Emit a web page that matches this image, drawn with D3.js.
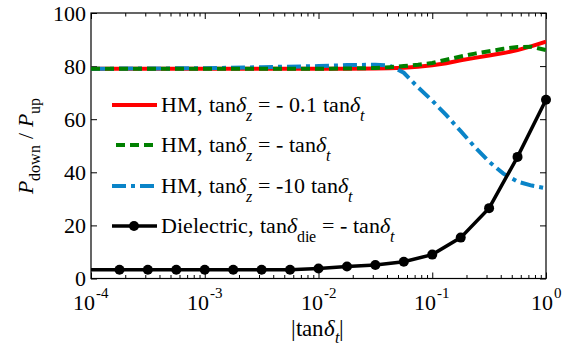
<!DOCTYPE html>
<html><head><meta charset="utf-8">
<script src="https://cdn.jsdelivr.net/npm/d3@7"></script>
<style>
@font-face{font-family:"ChartSerif";src:local("Liberation Serif"),local("LiberationSerif"),local("Liberation Serif Regular");font-style:normal;font-weight:400}
@font-face{font-family:"ChartSerif";src:local("Liberation Serif Italic"),local("LiberationSerif-Italic");font-style:italic;font-weight:400}
body{margin:0;background:#fff}
</style>
</head><body style="margin:0">
<svg id="c" width="571" height="347"></svg>
<script>
// ---- data ----
const hmX      = [1e-4, 3.16e-4, 1e-3, 3.16e-3, 1e-2, 0.0178, 0.0316, 0.0422, 0.0562, 0.075, 0.1, 0.133, 0.178, 0.237, 0.316, 0.422, 0.562, 0.75, 1];
const hmRed    = [79, 79, 79, 79, 79, 79, 79.1, 79.2, 79.4, 79.8, 80.3, 81.1, 82.2, 83.1, 84.0, 84.9, 86.0, 87.5, 89.2];
const hmGreen  = [79, 79, 79, 79, 79, 79.1, 79.3, 79.6, 80.0, 80.5, 81.2, 82.4, 83.6, 84.7, 85.6, 86.5, 87.2, 87.3, 86.0];
const hmBlue   = [79, 79.1, 79.2, 79.6, 80.0, 80.4, 80.5, 80.2, 77.5, 72.0, 67.0, 61.5, 55.5, 49.5, 44.0, 39.5, 36.5, 35.0, 34.0];
const dieX     = [1e-4, 1.78e-4, 3.16e-4, 5.62e-4, 1e-3, 1.78e-3, 3.16e-3, 5.62e-3, 1e-2, 1.78e-2, 3.16e-2, 5.62e-2, 0.1, 0.178, 0.316, 0.562, 1];
const dieY     = [3.3, 3.3, 3.3, 3.3, 3.3, 3.3, 3.3, 3.3, 3.8, 4.5, 5.1, 6.3, 9.0, 15.4, 26.5, 45.8, 67.3];
const dieMarkerFrom = 1; // first point (1e-4) has no marker
const xMajor   = [1e-4, 1e-3, 1e-2, 1e-1, 1];
const xExp     = ["-4", "-3", "-2", "-1", "0"];
const yTicks   = [0, 20, 40, 60, 80, 100];

// ---- layout ----
const W = 571, H = 347;
const L = 91, R = 546, T = 13, B = 278.5;
const svg = d3.select("#c");
svg.append("rect").attr("width", W).attr("height", H).attr("fill", "#fff");
const FONT = "ChartSerif, 'Liberation Serif', serif";

const x = d3.scaleLog().domain([1e-4, 1]).range([L, R]);
const y = d3.scaleLinear().domain([0, 100]).range([B, T]);

const xMinor = [];
for (let e = -4; e < 0; e++) for (let m = 2; m <= 9; m++) xMinor.push(m * Math.pow(10, e));

function styleAxis(g) {
  g.select(".domain").remove();
  g.attr("font-family", null).attr("font-size", null);
  g.selectAll("line").attr("stroke", "#000").attr("stroke-width", 1);
}
svg.append("g").attr("transform", `translate(0,${B})`)
  .call(d3.axisBottom(x).tickValues(xMajor).tickSize(-6).tickFormat(""))
  .call(styleAxis);
svg.append("g").attr("transform", `translate(0,${B})`)
  .call(d3.axisBottom(x).tickValues(xMinor).tickSize(-3.5).tickFormat(""))
  .call(styleAxis);
svg.append("g").attr("transform", `translate(0,${T})`)
  .call(d3.axisTop(x).tickValues(xMajor).tickSize(-6).tickFormat(""))
  .call(styleAxis);
svg.append("g").attr("transform", `translate(0,${T})`)
  .call(d3.axisTop(x).tickValues(xMinor).tickSize(-3.5).tickFormat(""))
  .call(styleAxis);
const yl = svg.append("g").attr("transform", `translate(${L},0)`)
  .call(d3.axisLeft(y).tickValues(yTicks).tickSize(-6).tickPadding(5).tickFormat(d3.format("d")))
  .call(styleAxis);
yl.selectAll("text").style("font-family", FONT).style("font-size", "22px").attr("fill", "#000");
svg.append("g").attr("transform", `translate(${R},0)`)
  .call(d3.axisRight(y).tickValues(yTicks).tickSize(-6).tickFormat(""))
  .call(styleAxis);

// x tick labels with superscripts
xMajor.forEach((v, i) => {
  const t = svg.append("text").attr("x", x(v)).attr("y", 310)
    .style("font-family", FONT).style("font-size", "22px").attr("text-anchor", "middle").attr("fill", "#000");
  t.append("tspan").text("10");
  t.append("tspan").style("font-size", "15px").attr("dy", -12).attr("dx", 1).text(xExp[i]);
});

// box
svg.append("rect").attr("x", L).attr("y", T).attr("width", R - L).attr("height", B - T)
  .attr("fill", "none").attr("stroke", "#000").attr("stroke-width", 1.2);

// ---- lines ----
const line = d3.line().x(d => x(d[0])).y(d => y(d[1]));
svg.append("clipPath").attr("id", "pc").append("rect")
  .attr("x", L).attr("y", T).attr("width", R - L).attr("height", B - T);
const plot = svg.append("g").attr("clip-path", "url(#pc)");

const RED = "#ff0000", GREEN = "#008000", BLUE = "#0a84c8";
const series = [
  { vals: hmRed, color: RED, dash: null },
  { vals: hmBlue, color: BLUE, dash: "14,5,4,5" },
  { vals: hmGreen, color: GREEN, dash: "9,5" }
];
series.forEach(s => {
  plot.append("path").datum(hmX.map((v, i) => [v, s.vals[i]]))
    .attr("d", line).attr("fill", "none").attr("stroke", s.color)
    .attr("stroke-width", 4).attr("stroke-dasharray", s.dash);
});
const diePts = dieX.map((v, i) => [v, dieY[i]]);
svg.append("path").datum(diePts).attr("d", line).attr("fill", "none")
  .attr("stroke", "#000").attr("stroke-width", 3.5);
svg.append("g").selectAll("circle").data(diePts.slice(dieMarkerFrom)).join("circle")
  .attr("cx", d => x(d[0])).attr("cy", d => y(d[1])).attr("r", 5).attr("fill", "#000");

// ---- legend ----
const legend = [
  { color: RED, dash: null, marker: false, x0: 112, parts: [["HM, tan"], ["δ", "i"], ["z", "subi"], [" = - 0.1 tan"], ["δ", "i"], ["t", "subi"]] },
  { color: GREEN, dash: "9,5", marker: false, x0: 116, parts: [["HM, tan"], ["δ", "i"], ["z", "subi"], [" = - tan"], ["δ", "i"], ["t", "subi"]] },
  { color: BLUE, dash: "14,5,4,5", marker: false, x0: 112, parts: [["HM, tan"], ["δ", "i"], ["z", "subi"], [" = -10 tan"], ["δ", "i"], ["t", "subi"]] },
  { color: "#000", dash: null, marker: true, x0: 112, parts: [["Dielectric, tan"], ["δ", "i"], ["die", "sub"], [" = - tan"], ["δ", "i"], ["t", "subi"]] }
];
const rowY = [105, 145, 186, 226];
legend.forEach((lg, i) => {
  const ly = rowY[i];
  svg.append("line").attr("x1", lg.x0).attr("x2", 157).attr("y1", ly).attr("y2", ly)
    .attr("stroke", lg.color).attr("stroke-width", lg.marker ? 3.5 : 4).attr("stroke-dasharray", lg.dash);
  if (lg.marker) svg.append("circle").attr("cx", 134).attr("cy", ly).attr("r", 5).attr("fill", "#000");
  const t = svg.append("text").attr("x", 161).attr("y", ly + 7)
    .style("font-family", FONT).style("font-size", "22px").attr("fill", "#000");
  let sub = false;
  lg.parts.forEach(p => {
    const ts = t.append("tspan").text(p[0]);
    const kind = p[1] || "";
    if (kind.startsWith("sub")) {
      ts.style("font-size", "16px").attr("dy", 9);
      if (kind === "subi") ts.style("font-style", "italic");
      sub = true;
    } else {
      if (sub) { ts.attr("dy", -9); sub = false; }
      if (kind === "i") ts.style("font-style", "italic");
    }
  });
});

// ---- axis labels ----
const xl = svg.append("text").attr("x", 317).attr("y", 336)
  .style("font-family", FONT).style("font-size", "23px").attr("text-anchor", "middle").attr("fill", "#000");
xl.append("tspan").text("|tan");
xl.append("tspan").style("font-style", "italic").text("δ");
xl.append("tspan").style("font-style", "italic").style("font-size", "16px").attr("dy", 7).text("t");
xl.append("tspan").attr("dy", -7).text("|");

const ylab = svg.append("text").attr("transform", `translate(33,146) rotate(-90)`)
  .style("font-family", FONT).style("font-size", "22px").attr("text-anchor", "middle").attr("fill", "#000");
ylab.append("tspan").style("font-style", "italic").text("P");
ylab.append("tspan").style("font-size", "16px").attr("dy", 7).text("down");
ylab.append("tspan").attr("dy", -7).text(" / ");
ylab.append("tspan").style("font-style", "italic").text("P");
ylab.append("tspan").style("font-size", "16px").attr("dy", 7).text("up");
</script>
</body></html>
